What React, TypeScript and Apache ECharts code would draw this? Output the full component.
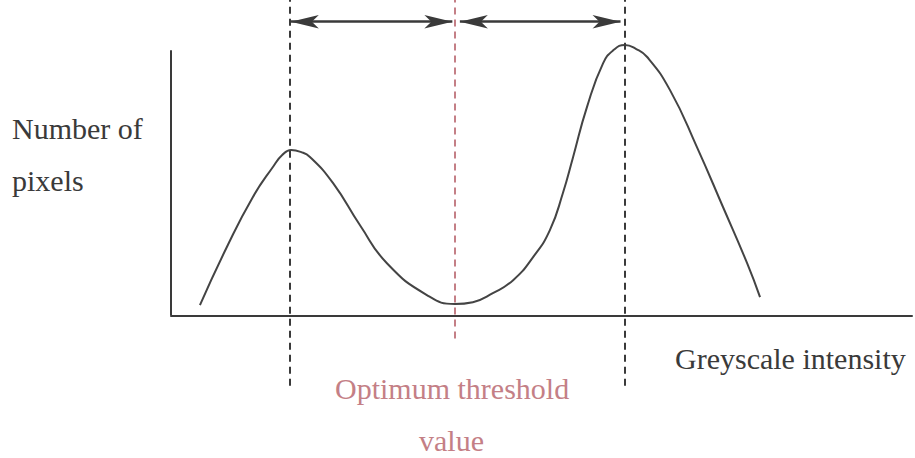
import React, { useEffect, useRef } from "react";
import * as echarts from "echarts";

// Curve: greyscale intensity (x) vs number of pixels (y)
const intensity = [10.0, 19.3, 28.3, 35.2, 38.5, 41.5, 44.8, 48.0, 56.0, 65.3, 74.6, 88.4, 98.1, 104.3, 111.2, 118.2, 125.1, 130.9, 135.4, 138.9, 143.7, 149.3, 153.0, 156.8, 160.6, 164.5, 172.4, 181.7, 190.7, 199.0, 203.5];
const pixels = [3.9, 25.8, 44.7, 56.0, 60.6, 62.4, 61.7, 59.8, 49.9, 34.0, 19.7, 7.7, 4.3, 5.0, 8.4, 13.3, 22.0, 32.2, 46.2, 59.7, 78.6, 95.2, 100.2, 102.0, 100.6, 97.5, 85.0, 63.5, 40.9, 19.8, 6.9];

// Reference lines (x positions): first peak, optimum threshold, second peak
const peak1 = 41.1;
const threshold = 98.1;
const peak2 = 156.8;
const arrowLevel = 110.8;
const arrowSpans = [
  [41.4, 97.2],
  [99.8, 155.3],
];

const Y_MIN = -27;
const Y_MAX = 119;
const Y_AXIS_TOP = 100;

const DARK = "#3a3a3a";
const PINK = "#c47f86";
const FONT = "'Liberation Serif', 'DejaVu Serif', serif";

export default function App() {
  const ref = useRef<HTMLDivElement>(null);
  useEffect(() => {
    if (!ref.current) return;
    const chart = echarts.init(ref.current, null, { renderer: "svg" });
    const dashed = (x: number, yFrom: number, yTo: number, color: string) => [
      { coord: [x, yFrom], symbol: "none" },
      { coord: [x, yTo], symbol: "none", lineStyle: { color, width: 2, type: [7, 5] } },
    ];
    const markData: any[] = [
      [
        { coord: [0, 0], symbol: "none" },
        { coord: [0, Y_AXIS_TOP], symbol: "none", lineStyle: { color: DARK, width: 2, type: "solid" } },
      ],
      dashed(peak1, Y_MIN + 0.5, Y_MAX, DARK),
      dashed(threshold, -8.7, Y_MAX, PINK),
      dashed(peak2, Y_MIN + 0.5, Y_MAX, DARK),
      ...arrowSpans.map(([a, b]) => [
        { coord: [a, arrowLevel], symbol: "arrow", symbolSize: [10, 28] },
        { coord: [b, arrowLevel], symbol: "arrow", symbolSize: [10, 28], lineStyle: { color: DARK, width: 2.5, type: "solid" } },
      ]),
    ];
    chart.setOption({
      animation: false,
      backgroundColor: "#ffffff",
      grid: { left: 171, right: 3, top: 0, bottom: 71 },
      xAxis: {
        type: "value",
        min: 0,
        max: 256,
        axisLine: { show: true, onZero: true, lineStyle: { color: DARK, width: 2 } },
        axisTick: { show: false },
        axisLabel: { show: false },
        splitLine: { show: false },
      },
      yAxis: {
        type: "value",
        min: Y_MIN,
        max: Y_MAX,
        axisLine: { show: false },
        axisTick: { show: false },
        axisLabel: { show: false },
        splitLine: { show: false },
      },
      series: [
        {
          type: "line",
          data: intensity.map((x, i) => [x, pixels[i]]),
          smooth: 0.5,
          showSymbol: false,
          silent: true,
          lineStyle: { color: "#444444", width: 2 },
          markLine: {
            silent: true,
            symbol: "none",
            label: { show: false },
            emphasis: { disabled: true },
            lineStyle: { color: DARK, width: 2, type: "solid" },
            data: markData,
          },
        },
      ],
      graphic: [
        { type: "text", left: 12, top: 113, style: { text: "Number of", font: `30px ${FONT}`, fill: DARK } },
        { type: "text", left: 12, top: 165, style: { text: "pixels", font: `30px ${FONT}`, fill: DARK } },
        { type: "text", left: 675, top: 343, style: { text: "Greyscale intensity", font: `30px ${FONT}`, fill: DARK } },
        { type: "text", left: 335, top: 373, style: { text: "Optimum threshold", font: `30px ${FONT}`, fill: PINK } },
        { type: "text", left: 419, top: 425, style: { text: "value", font: `30px ${FONT}`, fill: PINK } },
      ],
    });
    return () => chart.dispose();
  }, []);
  return <div ref={ref} style={{ position: "fixed", left: 0, top: 0, width: 915, height: 458 }} />;
}
